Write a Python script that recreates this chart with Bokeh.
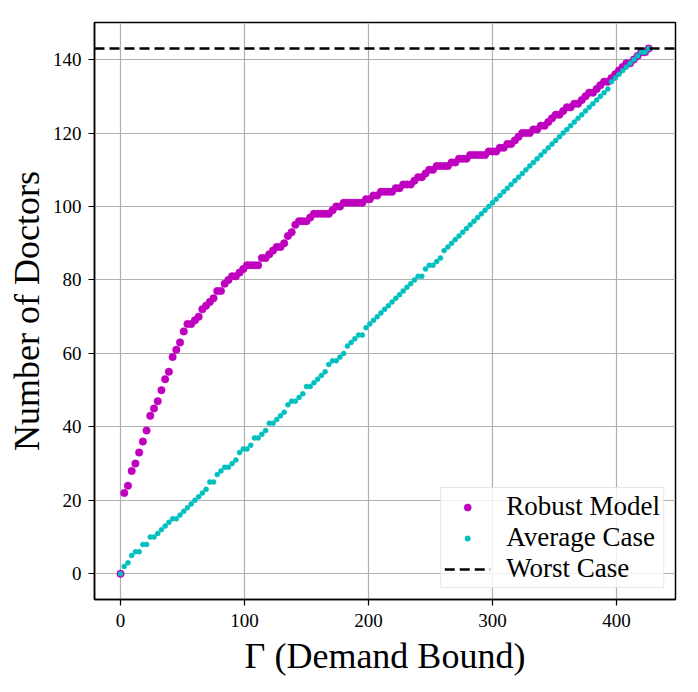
from bokeh.plotting import figure
from bokeh.models import Range1d, Legend, LegendItem
from bokeh.embed import file_html
from bokeh.resources import INLINE

gamma = [0, 3, 6, 9, 12, 15, 18, 21, 24, 27, 30, 33, 36, 39, 42, 45, 48, 51, 54, 57,
         60, 63, 66, 69, 72, 75, 78, 81, 84, 87, 90, 93, 96, 99, 102, 105, 108, 111, 114, 117,
         120, 123, 126, 129, 132, 135, 138, 141, 144, 147, 150, 153, 156, 159, 162, 165, 168, 171, 174, 177,
         180, 183, 186, 189, 192, 195, 198, 201, 204, 207, 210, 213, 216, 219, 222, 225, 228, 231, 234, 237,
         240, 243, 246, 249, 252, 255, 258, 261, 264, 267, 270, 273, 276, 279, 282, 285, 288, 291, 294, 297,
         300, 303, 306, 309, 312, 315, 318, 321, 324, 327, 330, 333, 336, 339, 342, 345, 348, 351, 354, 357,
         360, 363, 366, 369, 372, 375, 378, 381, 384, 387, 390, 393, 396, 399, 402, 405, 408, 411, 414, 417,
         420, 423, 426]

robust = [0, 22, 24, 28, 30, 33, 36, 39, 43, 45, 47, 50, 53, 55, 59, 61, 63, 66, 68, 68,
          69, 70, 72, 73, 74, 75, 77, 77, 79, 80, 81, 81, 82, 83, 84, 84, 84, 84, 86, 86,
          87, 88, 89, 89, 90, 92, 93, 95, 96, 96, 96, 97, 98, 98, 98, 98, 98, 99, 100, 100,
          101, 101, 101, 101, 101, 101, 102, 102, 103, 103, 104, 104, 104, 104, 105, 105, 106, 106, 106, 107,
          108, 108, 109, 110, 110, 111, 111, 111, 111, 112, 112, 113, 113, 113, 114, 114, 114, 114, 114, 115,
          115, 115, 116, 116, 117, 117, 118, 119, 120, 120, 120, 121, 121, 122, 122, 123, 124, 125, 125, 126,
          127, 127, 128, 128, 129, 130, 131, 131, 132, 133, 134, 134, 135, 136, 137, 138, 139, 139, 140, 141,
          142, 142, 143]

average = [0, 2, 3, 5, 6, 6, 8, 8, 10, 10, 11, 12, 13, 14, 15, 15, 16, 17, 18, 19,
           20, 21, 22, 23, 25, 25, 27, 28, 29, 29, 30, 31, 33, 34, 34, 35, 37, 37, 38, 39,
           41, 41, 42, 43, 44, 46, 47, 47, 48, 49, 51, 51, 52, 53, 54, 55, 57, 58, 58, 59,
           60, 62, 63, 64, 65, 65, 67, 68, 69, 70, 71, 72, 73, 74, 75, 76, 77, 78, 79, 80,
           81, 81, 83, 84, 84, 85, 86, 88, 89, 90, 91, 92, 93, 94, 95, 96, 97, 98, 99, 100,
           101, 102, 103, 104, 105, 106, 107, 108, 109, 110, 111, 112, 113, 114, 115, 116, 117, 118, 119, 120,
           121, 122, 123, 124, 125, 126, 127, 128, 129, 130, 131, 132, 134, 135, 136, 137, 138, 139, 140, 141,
           142, 142, 143]

worst_case = 143
x_ticks = [0, 100, 200, 300, 400]
y_ticks = [0, 20, 40, 60, 80, 100, 120, 140]
x_lo, x_hi = -21, 447.6
y_lo, y_hi = -7, 150.1

FONT = "Liberation Serif"
MAGENTA = "#bf00bf"
CYAN = "#00bfbf"

p = figure(width=698, height=692, x_range=Range1d(x_lo, x_hi), y_range=Range1d(y_lo, y_hi),
           output_backend="svg", toolbar_location=None,
           min_border_left=94, min_border_right=23, min_border_top=22, min_border_bottom=93)

p.background_fill_color = "white"
p.border_fill_color = "white"
p.outline_line_color = "black"
p.outline_line_width = 1.5

p.grid.grid_line_color = "#b0b0b0"
p.grid.grid_line_width = 1.2

for ax in (p.xaxis, p.yaxis):
    ax.axis_line_color = "black"
    ax.axis_line_width = 1.5
    ax.major_tick_line_color = "black"
    ax.major_tick_line_width = 1.2
    ax.major_tick_out = 6
    ax.major_tick_in = 0
    ax.minor_tick_line_color = None
    ax.major_label_text_font = FONT
    ax.major_label_text_font_size = "19px"
    ax.major_label_text_color = "black"
    ax.axis_label_text_font = FONT
    ax.axis_label_text_font_size = "36px"
    ax.axis_label_text_font_style = "normal"
    ax.axis_label_text_color = "black"

p.xaxis.ticker = x_ticks
p.yaxis.ticker = y_ticks
p.xaxis.axis_label = "Γ (Demand Bound)"
p.yaxis.axis_label = "Number of Doctors"
p.xaxis.major_label_standoff = 8
p.yaxis.major_label_standoff = 7
p.xaxis.axis_label_standoff = 6
p.yaxis.axis_label_standoff = 3

r_robust = p.scatter(gamma, robust, size=7.5, fill_color=MAGENTA, line_color=MAGENTA, line_width=0.5)
r_avg = p.scatter(gamma, average, size=5, fill_color=CYAN, line_color=CYAN, line_width=0.5)
r_worst = p.line([x_lo, x_hi], [worst_case, worst_case], line_color="black", line_width=2.5, line_dash="10 5")

# hidden twin of the average series, used only for a smaller legend marker
leg_avg = p.scatter(gamma, average, fill_color=CYAN, line_color="white", line_width=1.3, visible=False)

legend = Legend(items=[LegendItem(label="Robust Model", renderers=[r_robust]),
                       LegendItem(label="Average Case", renderers=[leg_avg]),
                       LegendItem(label="Worst Case", renderers=[r_worst])],
                location="bottom_right")
legend.label_text_font = FONT
legend.label_text_font_size = "27px"
legend.label_text_color = "black"
legend.glyph_width = 46
legend.glyph_height = 18
legend.label_height = 28
legend.label_standoff = 16
legend.spacing = 0
legend.padding = 3
legend.margin = 11
legend.border_line_color = "#cccccc"
legend.border_line_width = 1
legend.background_fill_alpha = 0.8
legend.inactive_fill_alpha = 0
p.add_layout(legend)

open("out.html", "w").write(file_html(p, INLINE))
